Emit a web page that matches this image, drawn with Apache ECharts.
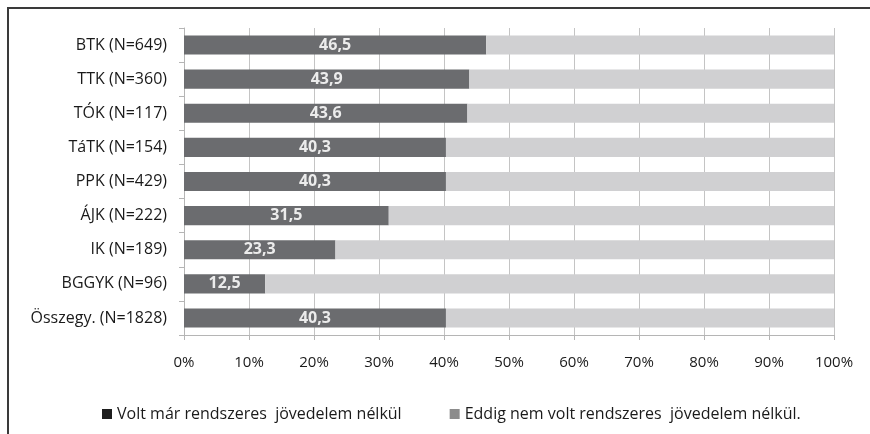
<!DOCTYPE html>
<html><head><meta charset="utf-8">
<script src="https://cdn.jsdelivr.net/npm/echarts@6/dist/echarts.min.js"></script>
<style>html,body{margin:0;padding:0;background:#fff}#c{width:870px;height:434px}</style>
</head><body><div id="c"></div>
<script>
const categories = ["BTK (N=649)","TTK (N=360)","TÓK (N=117)","TáTK (N=154)","PPK (N=429)","ÁJK (N=222)","IK (N=189)","BGGYK (N=96)","Összegy. (N=1828)"];
const voltValues = [46.5,43.9,43.6,40.3,40.3,31.5,23.3,12.5,40.3];
const eddigValues = [53.5,56.1,56.4,59.7,59.7,68.5,76.7,87.5,59.7];
const seriesNames = ["Volt már rendszeres  jövedelem nélkül","Eddig nem volt rendszeres  jövedelem nélkül."];
const xTicks = [0,10,20,30,40,50,60,70,80,90,100];

const font = "'Open Sans', sans-serif";
const chart = echarts.init(document.getElementById('c'), null, {renderer:'canvas'});
chart.setOption({
  backgroundColor:'#fff',
  animation:false,
  textStyle:{fontFamily:font},
  graphic:[
    {type:'polyline', shape:{points:[[8,434],[8,8],[870,8]]}, style:{stroke:'#3a3a3a', lineWidth:2, fill:null}}
  ],
  grid:{left:184, right:36, top:28, bottom:99, containLabel:false},
  legend:{
    top:401, left:97, itemGap:48, itemWidth:10, itemHeight:10, itemTextGap:4, icon:'rect',
    textStyle:{fontSize:16, color:'#1a1a1a', fontFamily:font},
    data:[{name:seriesNames[0], itemStyle:{color:'#1e1e1e'}},{name:seriesNames[1], itemStyle:{color:'#8c8c8c'}}]
  },
  xAxis:{
    type:'value', min:0, max:100, interval:10,
    axisLabel:{formatter:v=>v+'%', fontSize:15, color:'#1a1a1a', margin:20, fontFamily:font},
    axisLine:{show:true, lineStyle:{color:'#b5b5b5'}},
    axisTick:{show:true, length:5, lineStyle:{color:'#b5b5b5'}},
    splitLine:{show:true, lineStyle:{color:'#c4c4c4'}}
  },
  yAxis:{
    type:'category', data:categories, inverse:true,
    axisLabel:{fontSize:16, color:'#1a1a1a', margin:17, fontFamily:font},
    axisLine:{show:true, lineStyle:{color:'#b5b5b5'}},
    axisTick:{show:true, length:5, lineStyle:{color:'#b5b5b5'}}
  },
  series:[
    {name:seriesNames[0], type:'bar', stack:'a', data:voltValues, barCategoryGap:'44%',
     itemStyle:{color:'#6b6c6f'},
     label:{show:true, position:'inside', formatter:p=>String(p.value).replace('.',','), color:'#ececec', fontWeight:'bold', fontSize:16, fontFamily:font}},
    {name:seriesNames[1], type:'bar', stack:'a', data:eddigValues, barCategoryGap:'44%',
     itemStyle:{color:'#d0d0d2'}}
  ]
});
</script></body></html>
